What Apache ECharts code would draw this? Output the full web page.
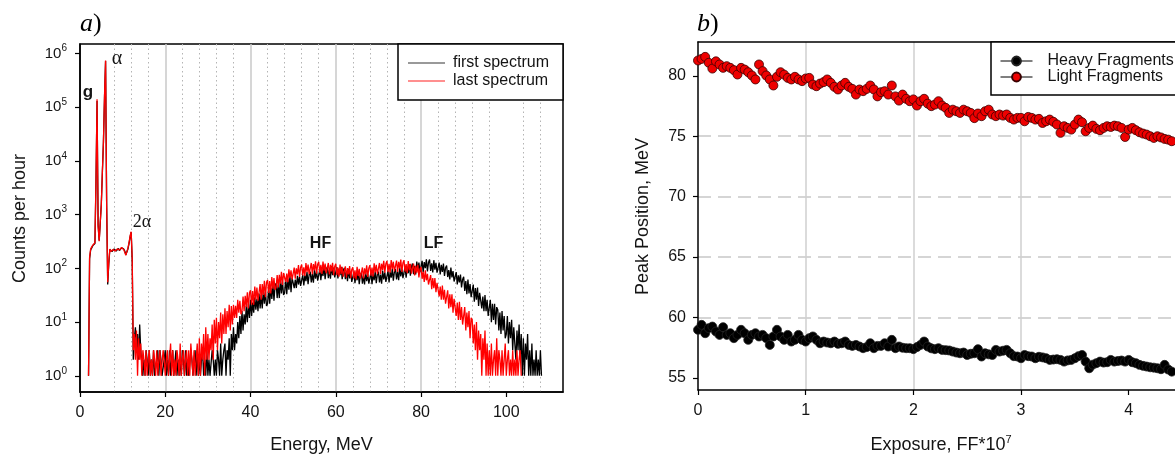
<!DOCTYPE html>
<html><head><meta charset="utf-8">
<script src="https://cdn.jsdelivr.net/npm/echarts@6/dist/echarts.min.js"></script>
<style>html,body{margin:0;padding:0;background:#fff}#c{width:1175px;height:457px}</style>
</head><body><div id="c"></div>
<script>
// ---- panel a: energy spectra (counts per 0.25 MeV bin, first bin at 2.0 MeV) ----
const spectrumStartMeV = 2.0;
const spectrumStepMeV = 0.25;
const firstSpectrum = [
  1, 150, 220, 240, 265, 275, 290, 4000, 130000, 650, 330, 700,
  1600, 6000, 23000, 150000, 720000, 1600, 50, 120, 225, 210, 205, 220,
  230, 215, 210, 225, 235, 215, 220, 240, 250, 230, 210, 180,
  175, 230, 290, 380, 470, 140,
  2, 5, 8, 3, 6, 2, 9, 3,
  3, 1, 2, 1, 3, 2, 1, 3, 1, 2, 1, 3, 1, 1, 2, 3, 1, 3, 2, 1, 1, 2, 3, 1,
  2, 1, 3, 1, 2, 3, 1, 1, 3, 1, 2, 1, 2, 1, 3, 2, 1, 3, 1, 2, 1, 1, 3, 2,
  1, 2, 3, 1, 3, 1, 2, 1, 2, 3, 1, 2, 1, 3, 1, 2, 1, 1, 3, 2, 1, 2, 1, 3,
  2, 1, 4, 1, 2, 3,
  4, 1, 3, 2, 5, 1, 6, 3,
  8, 3, 6, 4, 10, 5, 13, 6,
  16, 7, 14, 9, 20, 10, 22, 12,
  26, 13, 23, 15, 29, 17, 27, 16,
  34, 18, 32, 18, 39, 22, 37, 20,
  22, 43, 22, 43, 27, 51, 25, 47,
  53, 28, 50, 28, 61, 34, 57, 32,
  35, 65, 33, 64, 40, 73, 36, 67,
  68, 43, 62, 43, 73, 50, 70, 47,
  50, 76, 48, 74, 58, 85, 51, 76,
  87, 55, 78, 54, 94, 64, 89, 59,
  64, 96, 60, 93, 72, 106, 63, 93,
  106, 66, 94, 64, 110, 75, 103, 68,
  72, 106, 65, 99, 75, 107, 63, 91,
  102, 63, 86, 58, 98, 65, 86, 56,
  59, 86, 53, 80, 60, 88, 51, 75,
  83, 52, 73, 50, 85, 58, 79, 52,
  55, 83, 51, 79, 60, 88, 53, 77,
  87, 55, 77, 52, 91, 62, 84, 56,
  60, 90, 55, 86, 67, 97, 59, 86,
  97, 62, 87, 60, 104, 71, 98, 66,
  71, 106, 67, 104, 81, 119, 73, 107,
  123, 78, 112, 77, 134, 92, 128, 85,
  92, 138, 85, 131, 101, 147, 88, 129,
  146, 90, 124, 84, 142, 95, 127, 83,
  87, 128, 77, 116, 86, 123, 72, 103,
  113, 69, 93, 62, 103, 68, 89, 57,
  59, 85, 50, 74, 55, 77, 44, 62,
  70, 38, 58, 33, 62, 34, 51, 29,
  29, 50, 24, 43, 26, 44, 20, 35,
  36, 18, 30, 16, 32, 16, 26, 13,
  13, 26, 10, 22, 11, 22, 9, 19,
  17, 7, 15, 6, 16, 7, 13, 5,
  6, 13, 4, 10, 5, 11, 3, 8,
  8, 2, 7, 3, 9, 2, 6, 1,
  5, 1, 4, 2, 6, 1, 3, 1,
  4, 1, 2, 1, 3, 1, 2, 1,
  3, 1
];
const lastSpectrum = [
  1, 160, 230, 250, 270, 285, 300, 4500, 140000, 600, 320, 720,
  1500, 6500, 22000, 160000, 740000, 1500, 55, 130, 230, 205, 200, 225,
  235, 210, 205, 230, 240, 220, 215, 245, 255, 225, 200, 175,
  165, 240, 300, 400, 480, 150,
  3, 6, 2, 7, 1, 5, 2, 4,
  1, 3, 2, 1, 3, 1, 2, 3, 1, 2, 1, 3, 2, 1, 3, 1, 2, 3, 1, 1, 3, 2, 1, 2,
  3, 1, 2, 4, 1, 3, 1, 2, 1, 3, 2, 1, 4, 1, 2, 3, 1, 2, 3, 1, 3, 1, 4, 2,
  1, 3, 1, 2, 4, 1,
  5, 1, 4, 2, 6, 1, 8, 2,
  6, 2, 5, 3, 9, 2, 11, 4,
  12, 3, 10, 5, 15, 4, 14, 6,
  18, 6, 16, 8, 21, 7, 20, 9,
  21, 12, 20, 12, 26, 15, 25, 14,
  16, 30, 16, 31, 19, 36, 18, 35,
  39, 21, 38, 21, 46, 26, 44, 25,
  27, 51, 26, 51, 32, 59, 29, 55,
  61, 35, 58, 34, 69, 42, 66, 40,
  44, 75, 44, 76, 52, 86, 49, 82,
  87, 56, 80, 55, 96, 67, 92, 62,
  67, 103, 64, 100, 77, 115, 69, 104,
  118, 74, 105, 72, 125, 85, 118, 78,
  84, 126, 78, 120, 92, 135, 80, 119,
  133, 83, 116, 79, 134, 91, 123, 81,
  86, 126, 77, 117, 88, 127, 75, 108,
  122, 75, 104, 70, 118, 79, 107, 70,
  74, 109, 67, 101, 77, 110, 66, 95,
  105, 66, 92, 62, 107, 72, 98, 65,
  69, 104, 65, 100, 77, 114, 69, 101,
  115, 73, 103, 71, 124, 84, 116, 78,
  84, 126, 79, 122, 94, 138, 83, 122,
  138, 86, 122, 83, 143, 97, 133, 88,
  94, 140, 86, 132, 100, 146, 86, 126,
  141, 87, 120, 81, 137, 92, 122, 80,
  84, 123, 74, 111, 83, 117, 68, 97,
  106, 64, 86, 56, 92, 60, 79, 50,
  47, 75, 41, 66, 43, 66, 36, 54,
  57, 30, 46, 26, 48, 26, 40, 22,
  22, 39, 18, 33, 19, 33, 15, 27,
  29, 13, 23, 11, 24, 11, 19, 9,
  9, 19, 7, 15, 8, 16, 5, 12,
  11, 4, 9, 3, 10, 2, 7, 3,
  6, 1, 5, 2, 7, 1, 4, 1,
  3, 1, 4, 1, 2, 3, 1, 5,
  1, 3, 2, 1, 3, 1, 2, 4,
  1, 2, 3, 1, 2, 1, 3, 1,
  2, 1, 3, 1, 2, 3, 1
];
const energyTicks = [0, 20, 40, 60, 80, 100];
const energyMinorTicks = [4, 8, 12, 16, 24, 28, 32, 36, 44, 48, 52, 56, 64, 68, 72, 76, 84, 88, 92, 96, 104, 108, 112];
const countTicks = [1, 10, 100, 1000, 10000, 100000, 1000000];

// ---- panel b: peak positions vs exposure (one point per 1/30 of 10^7 FF) ----
const exposureStep = 1 / 30;
const heavyFragments = [
  58.98, 59.39, 58.70, 59.12, 59.25, 58.84, 58.56, 59.20, 58.56, 58.70,
  58.29, 58.56, 58.98, 58.70, 58.15, 58.56, 58.70, 58.43, 58.56, 58.29,
  57.73, 58.43, 58.98, 58.43, 58.15, 58.56, 58.01, 58.15, 58.56, 58.15,
  58.01, 58.29, 58.43, 58.15, 57.87, 58.01, 57.93, 57.87, 58.01, 57.82,
  57.87, 58.01, 57.73, 57.65, 57.73, 57.60, 57.46, 57.55, 57.87, 57.46,
  57.65, 57.65, 57.87, 57.60, 58.15, 57.46, 57.60, 57.50, 57.46, 57.46,
  57.38, 57.55, 57.73, 58.01, 57.60, 57.45, 57.38, 57.46, 57.32, 57.30,
  57.27, 57.18, 57.10, 57.04, 57.10, 56.90, 57.00, 57.04, 57.38, 56.77,
  57.04, 56.95, 56.90, 57.32, 57.18, 57.25, 57.32, 57.04, 56.80, 56.77,
  56.63, 56.90, 56.80, 56.77, 56.63, 56.75, 56.70, 56.63, 56.49, 56.52,
  56.55, 56.49, 56.35, 56.45, 56.49, 56.63, 56.80, 56.90, 56.35, 55.80,
  56.10, 56.22, 56.35, 56.27, 56.30, 56.49, 56.35, 56.40, 56.44, 56.35,
  56.49, 56.30, 56.22, 56.08, 56.00, 55.94, 55.88, 55.85, 55.80, 55.72,
  56.08, 55.70, 55.52, 55.33, 55.40, 55.30
];
const lightFragments = [
  81.27, 81.40, 81.57, 81.08, 80.60, 81.20, 80.94, 80.66, 80.80, 80.66,
  80.47, 80.11, 80.66, 80.52, 80.30, 80.03, 79.70, 80.94, 80.39, 80.03,
  79.70, 79.20, 79.92, 80.30, 80.10, 79.83, 79.70, 79.92, 79.70, 79.56,
  79.78, 79.83, 79.28, 79.14, 79.36, 79.48, 79.70, 79.42, 79.09, 78.87,
  79.20, 79.42, 79.09, 78.92, 78.45, 78.87, 78.73, 78.92, 79.20, 78.87,
  78.30, 78.65, 78.73, 78.45, 79.20, 78.30, 77.95, 78.45, 78.10, 77.90,
  78.05, 77.54, 77.90, 78.10, 77.70, 77.49, 77.62, 77.90, 77.54, 77.35,
  76.93, 77.20, 77.07, 76.93, 77.20, 77.07, 76.93, 76.50, 76.88, 76.66,
  77.07, 77.20, 76.80, 76.66, 76.80, 76.71, 76.80, 76.52, 76.38, 76.52,
  76.52, 76.24, 76.60, 76.52, 76.38, 76.44, 76.10, 76.24, 76.38, 76.20,
  75.97, 75.28, 75.83, 75.69, 75.55, 75.97, 76.38, 76.16, 75.41, 75.69,
  75.88, 75.61, 75.50, 75.69, 75.83, 75.77, 75.88, 75.83, 75.69, 74.94,
  75.55, 75.69, 75.50, 75.33, 75.22, 75.14, 75.00, 74.86, 75.00, 74.90,
  74.78, 74.72, 74.59, 74.72, 74.60, 74.50
];
const exposureTicks = [0, 1, 2, 3, 4];
const peakTicks = [55, 60, 65, 70, 75, 80];

const SANS = '"Liberation Sans", Arial, sans-serif';
const SERIF = '"Liberation Serif", "Times New Roman", serif';
const TXT = '#141414';

const toSpectrum = arr => arr.map((v, i) => [spectrumStartMeV + i * spectrumStepMeV, v]);
const toExposure = arr => arr.map((v, i) => [i * exposureStep, v]);

const chart = echarts.init(document.getElementById('c'), null, {renderer: 'canvas'});

function gtext(x, y, text, style, rot) {
  return {
    type: 'text', x: x, y: y, rotation: rot || 0, z: 100,
    style: Object.assign({
      text: text, fill: TXT, font: '16px ' + SANS,
      align: 'center', verticalAlign: 'middle',
      textAlign: 'center', textVerticalAlign: 'middle'
    }, style)
  };
}

const blackLine = {show: true, onZero: false, lineStyle: {color: '#000', width: 1.5}};
const blackTick = list => ({show: true, customValues: list, length: 5, lineStyle: {color: '#000', width: 1.2}});

const option = {
  animation: false,
  backgroundColor: '#fff',
  grid: [
    {left: 80, top: 44, width: 483, height: 348, show: true, borderColor: '#000', borderWidth: 1.5, backgroundColor: 'rgba(0,0,0,0)'},
    {left: 698, top: 42, right: 0, height: 348, show: false}
  ],
  xAxis: [
    {
      gridIndex: 0, type: 'value', min: 0, max: 113.3,
      axisLine: blackLine, axisTick: blackTick(energyTicks),
      axisLabel: {customValues: energyTicks, margin: 13, fontSize: 16, color: TXT, fontFamily: SANS},
      splitLine: {show: true, showMinLine: false, showMaxLine: false, lineStyle: {color: '#c8c8c8', width: 1.5}}
    },
    {
      gridIndex: 0, type: 'value', min: 0, max: 113.3, position: 'bottom',
      axisLine: {show: false}, axisTick: {show: false, customValues: energyMinorTicks},
      axisLabel: {show: false, customValues: energyMinorTicks},
      splitLine: {show: true, showMinLine: false, showMaxLine: false, lineStyle: {color: '#b4b4b4', width: 1, type: [1.5, 3]}}
    },
    {
      gridIndex: 1, type: 'value', min: 0, max: 4.43, position: 'bottom',
      axisLine: blackLine, axisTick: blackTick(exposureTicks),
      axisLabel: {customValues: exposureTicks, margin: 13, fontSize: 16, color: TXT, fontFamily: SANS},
      splitLine: {show: true, showMinLine: false, showMaxLine: false, lineStyle: {color: '#cfcfcf', width: 1.5}}
    },
    {
      gridIndex: 1, type: 'value', min: 0, max: 4.43, position: 'top',
      axisLine: blackLine, axisTick: {show: false}, axisLabel: {show: false}, splitLine: {show: false}
    }
  ],
  yAxis: [
    {
      gridIndex: 0, type: 'log', logBase: 10, min: 0.5, max: 1.5e6,
      axisLine: blackLine, axisTick: blackTick(countTicks),
      axisLabel: {
        customValues: countTicks, margin: 13, color: TXT, fontFamily: SANS,
        formatter: v => '{b|10}{s|' + Math.round(Math.log10(v)) + '}',
        rich: {
          b: {fontSize: 15, lineHeight: 20, fontFamily: SANS, color: TXT},
          s: {fontSize: 10, lineHeight: 10, verticalAlign: 'top', fontFamily: SANS, color: TXT}
        }
      },
      splitLine: {show: false}
    },
    {
      gridIndex: 1, type: 'value', min: 54, max: 82.8,
      axisLine: blackLine, axisTick: blackTick(peakTicks),
      axisLabel: {customValues: peakTicks, margin: 12, fontSize: 16, color: TXT, fontFamily: SANS},
      splitLine: {show: true, showMinLine: false, showMaxLine: false, lineStyle: {color: '#c8c8c8', width: 1.5, type: [13, 7]}}
    }
  ],
  legend: [
    {
      orient: 'vertical', left: 398, top: 44,
      itemWidth: 37, itemHeight: 1.5, itemGap: 0,
      padding: [10, 14, 10, 10],
      backgroundColor: '#fff', borderColor: '#000', borderWidth: 1.5, borderRadius: 0,
      textStyle: {fontSize: 16, lineHeight: 18, color: TXT, fontFamily: SANS, padding: [0, 0, 0, 3]},
      data: [
        {name: 'first spectrum', icon: 'rect', itemStyle: {color: '#777777'}},
        {name: 'last spectrum', icon: 'rect', itemStyle: {color: '#ff6a6a'}}
      ]
    },
    {
      orient: 'vertical', left: 991, top: 42,
      itemWidth: 32, itemHeight: 11, itemGap: 0,
      padding: [11, 30, 10, 9],
      backgroundColor: '#fff', borderColor: '#000', borderWidth: 1.5, borderRadius: 0,
      textStyle: {fontSize: 16, lineHeight: 15, color: TXT, fontFamily: SANS, padding: [0, 0, 0, 10]},
      data: [
        {name: 'Heavy Fragments', lineStyle: {color: '#000', width: 1, opacity: 1}},
        {name: 'Light Fragments', lineStyle: {color: '#000', width: 1, opacity: 1}}
      ]
    }
  ],
  series: [
    {
      name: 'first spectrum', type: 'line', xAxisIndex: 0, yAxisIndex: 0,
      data: toSpectrum(firstSpectrum), symbol: 'none', showSymbol: false,
      lineStyle: {color: '#000', width: 1.3}, itemStyle: {color: '#000'}, z: 2
    },
    {
      name: 'last spectrum', type: 'line', xAxisIndex: 0, yAxisIndex: 0,
      data: toSpectrum(lastSpectrum), symbol: 'none', showSymbol: false,
      lineStyle: {color: '#ff0000', width: 1.3}, itemStyle: {color: '#ff0000'}, z: 3
    },
    {
      name: 'Heavy Fragments', type: 'line', xAxisIndex: 2, yAxisIndex: 1,
      data: toExposure(heavyFragments), symbol: 'circle', symbolSize: 9, showSymbol: true,
      lineStyle: {opacity: 0, width: 0}, itemStyle: {color: '#000', borderColor: '#222', borderWidth: 0.8}
    },
    {
      name: 'Light Fragments', type: 'line', xAxisIndex: 2, yAxisIndex: 1,
      data: toExposure(lightFragments), symbol: 'circle', symbolSize: 9, showSymbol: true,
      lineStyle: {opacity: 0, width: 0}, itemStyle: {color: '#ee0000', borderColor: '#3a0000', borderWidth: 0.8}
    }
  ],
  graphic: [
    {type: 'text', x: 80, y: 24, z: 100, style: {
      text: '{i|a}{n|)}', align: 'left', verticalAlign: 'middle', textAlign: 'left', textVerticalAlign: 'middle',
      rich: {i: {fontSize: 26, fontStyle: 'italic', fontFamily: SERIF, fill: '#000', color: '#000'},
             n: {fontSize: 26, fontFamily: SERIF, fill: '#000', color: '#000'}}}},
    {type: 'text', x: 697, y: 24, z: 100, style: {
      text: '{i|b}{n|)}', align: 'left', verticalAlign: 'middle', textAlign: 'left', textVerticalAlign: 'middle',
      rich: {i: {fontSize: 26, fontStyle: 'italic', fontFamily: SERIF, fill: '#000', color: '#000'},
             n: {fontSize: 26, fontFamily: SERIF, fill: '#000', color: '#000'}}}},
    gtext(88, 92, 'g', {font: 'bold 17px ' + SANS}),
    gtext(117, 59, 'α', {font: '20px ' + SERIF}),
    gtext(142, 222, '2α', {font: '18px ' + SERIF}),
    gtext(320.5, 244, 'HF', {font: 'bold 16px ' + SANS}),
    gtext(433.5, 244, 'LF', {font: 'bold 16px ' + SANS}),
    gtext(321.5, 445, 'Energy, MeV', {font: '18px ' + SANS}),
    gtext(20.5, 218.5, 'Counts per hour', {font: '18px ' + SANS}, Math.PI / 2),
    gtext(643, 216.5, 'Peak Position, MeV', {font: '18px ' + SANS}, Math.PI / 2),
    {type: 'text', x: 941, y: 445, z: 100, style: {
      text: '{t|Exposure, FF*10}{s|7}', align: 'center', verticalAlign: 'middle', textAlign: 'center', textVerticalAlign: 'middle',
      rich: {t: {fontSize: 18, lineHeight: 22, fontFamily: SANS, fill: TXT, color: TXT},
             s: {fontSize: 11, lineHeight: 11, verticalAlign: 'top', fontFamily: SANS, fill: TXT, color: TXT}}}}
  ]
};
chart.setOption(option);
</script>
</body></html>
